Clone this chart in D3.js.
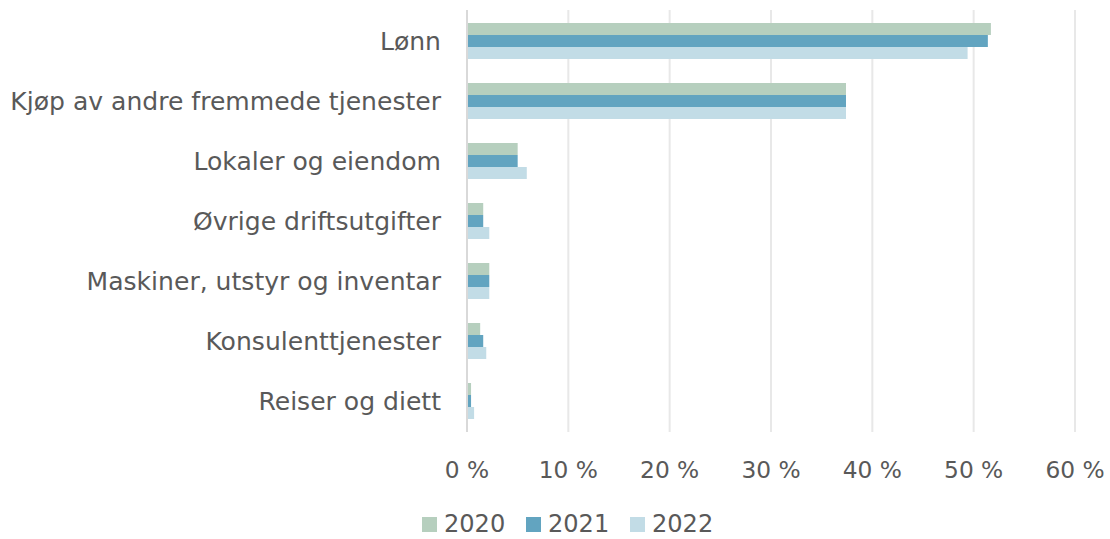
<!DOCTYPE html>
<html><head><meta charset="utf-8">
<script src="https://cdn.jsdelivr.net/npm/d3@7"></script>
<style>body{margin:0;background:#fff}svg{display:block}text{font-family:"DejaVu Sans",sans-serif;fill:#595959}</style>
</head><body><svg id="c" width="1110" height="539"></svg>
<script>
const categories = ["Lønn","Kjøp av andre fremmede tjenester","Lokaler og eiendom","Øvrige driftsutgifter","Maskiner, utstyr og inventar","Konsulenttjenester","Reiser og diett"];
const series = ["2020","2021","2022"];
const v2020 = [51.7,37.4,5.0,1.6,2.2,1.3,0.4];
const v2021 = [51.4,37.4,5.0,1.6,2.2,1.6,0.4];
const v2022 = [49.4,37.4,5.9,2.2,2.2,1.9,0.7];
const ticks = [0,10,20,30,40,50,60];
const colors = ["#b6cfbe","#62a4c0","#c2dce6"];
const values = [v2020,v2021,v2022];

const svg = d3.select("#c");
const x = d3.scaleLinear().domain([0,60]).range([467,1075]);
const y = d3.scaleBand().domain(categories).range([11,431]).paddingInner(0.4).paddingOuter(0.2);
const ys = d3.scaleBand().domain(series).range([0,y.bandwidth()]);

svg.append("g").selectAll("line").data(ticks.slice(1)).join("line")
  .attr("x1",d=>x(d)).attr("x2",d=>x(d)).attr("y1",10).attr("y2",432)
  .attr("stroke","#e8e8e8").attr("stroke-width",2);

categories.forEach((c,i)=>{
  series.forEach((s,j)=>{
    svg.append("rect").attr("x",x(0)).attr("y",y(c)+ys(s))
      .attr("width",x(values[j][i])-x(0)).attr("height",ys.bandwidth())
      .attr("fill",colors[j]);
  });
});
svg.append("line").attr("x1",x(0)).attr("x2",x(0)).attr("y1",10).attr("y2",432)
  .attr("stroke","#d9d9d9").attr("stroke-width",2);

const cl = svg.append("g").selectAll("text").data(categories).join("text")
  .attr("x",441).attr("y",d=>y(d)+y.bandwidth()/2).attr("dy","0.35em")
  .attr("text-anchor","end").attr("font-size",22).text(d=>d);
const longest = cl.filter(d=>d===categories[1]).node().getComputedTextLength();
const fs = 22*431/longest;
cl.attr("font-size",fs);

svg.append("g").selectAll("text").data(ticks).join("text")
  .attr("x",d=>x(d)).attr("y",470).attr("dy","0.35em")
  .attr("text-anchor","middle").attr("font-size",fs*0.93).text(d=>d+" %");

const leg = svg.append("g");
const lx = [422,526,630];
series.forEach((s,j)=>{
  leg.append("rect").attr("x",lx[j]).attr("y",517).attr("width",15).attr("height",15).attr("fill",colors[j]);
  leg.append("text").attr("x",lx[j]+22).attr("y",524).attr("dy","0.35em").attr("font-size",fs*0.96).text(s);
});
</script></body></html>
